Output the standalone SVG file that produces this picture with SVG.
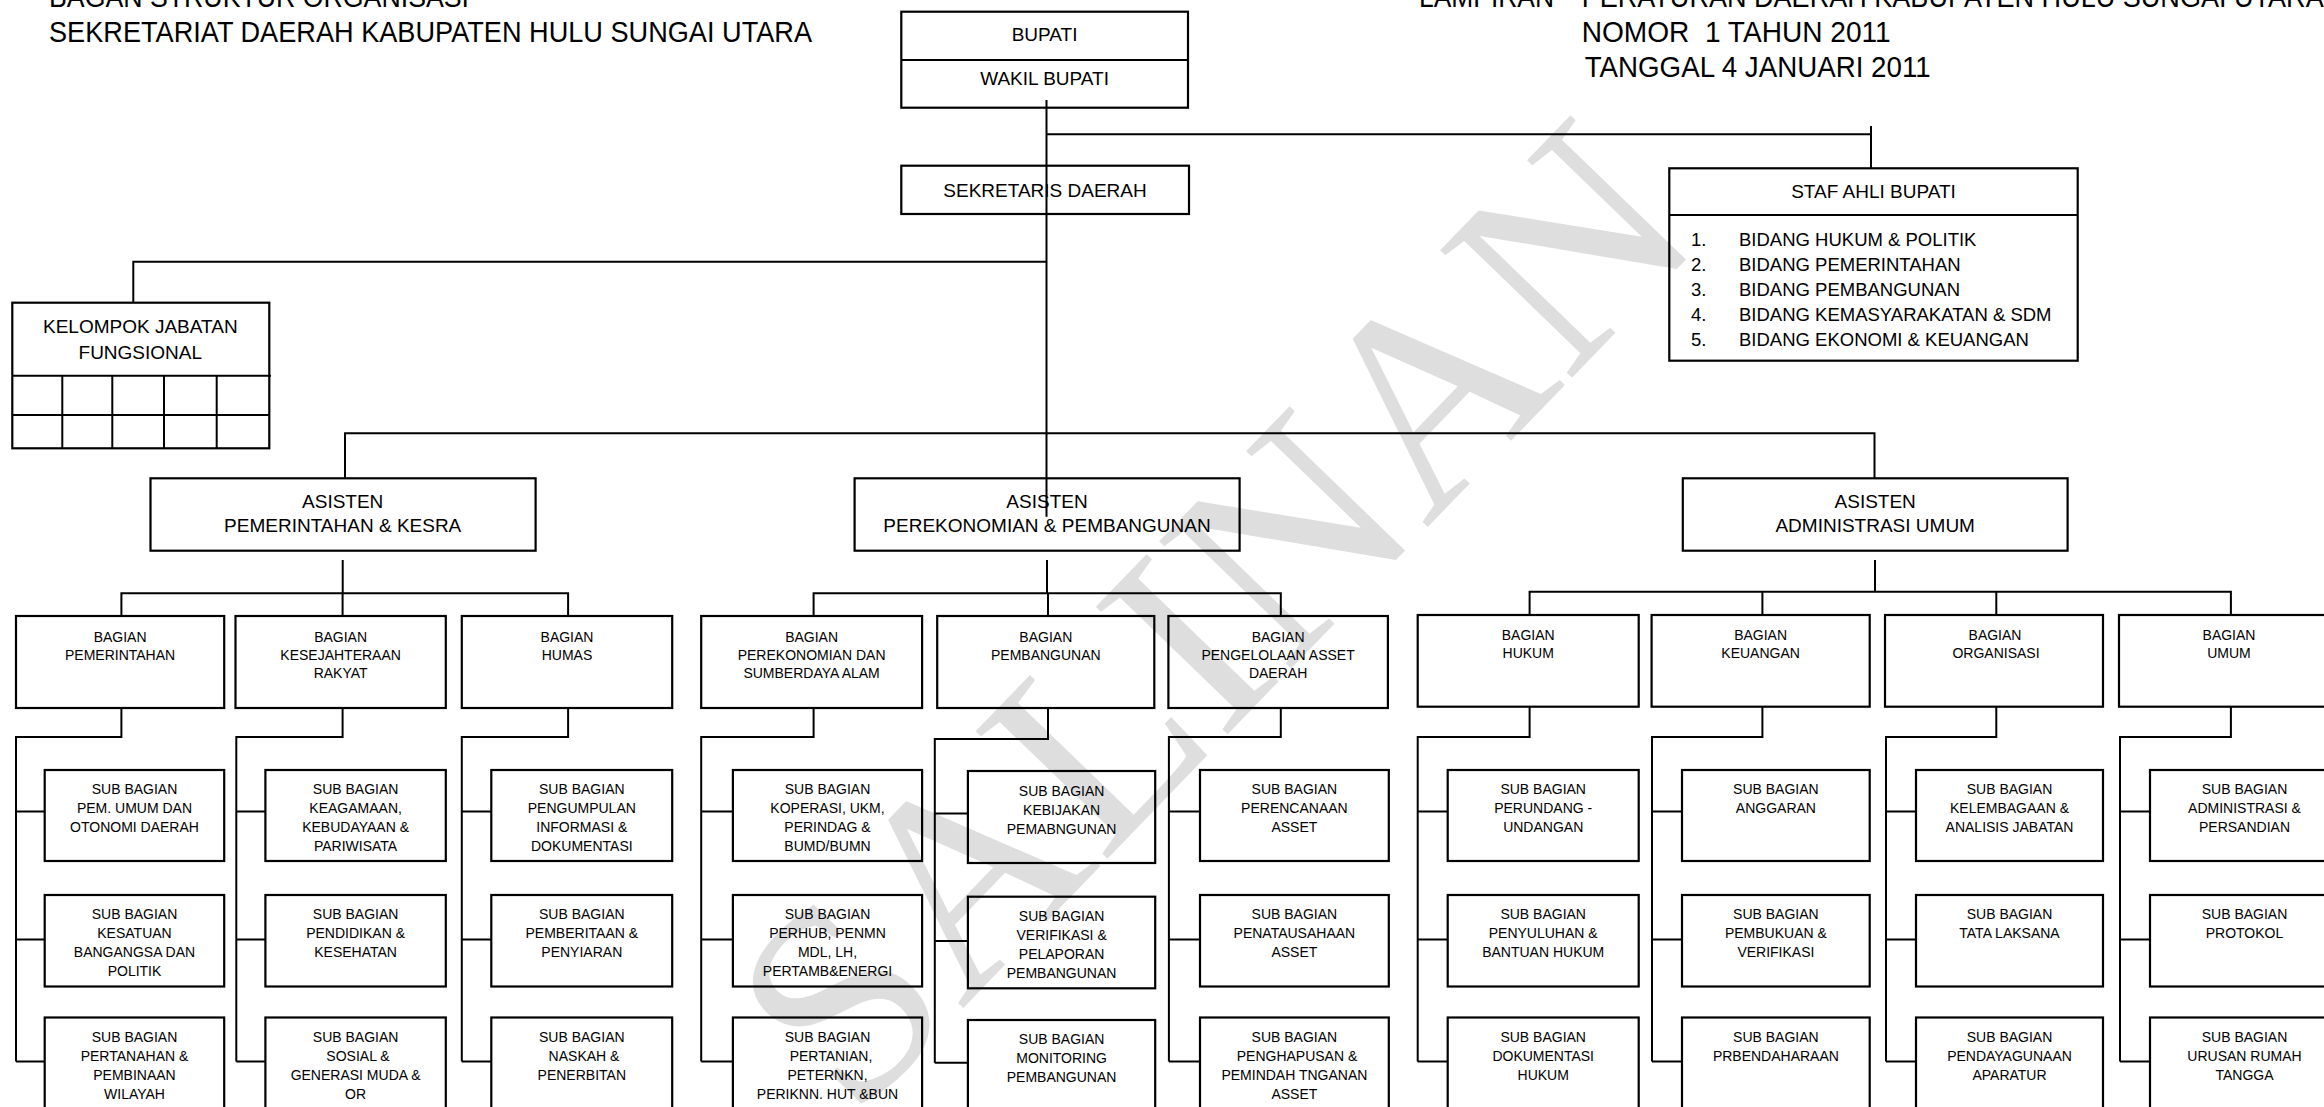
<svg xmlns="http://www.w3.org/2000/svg" width="2324" height="1107" viewBox="0 0 2324 1107">
<style>
.bx{fill:none;stroke:#000;stroke-width:2.2}
.ln{fill:none;stroke:#000;stroke-width:2}
text{font-family:"Liberation Sans",Arial,sans-serif;fill:#000}
.h{font-size:29px}
.n{font-size:19px;text-anchor:middle}
.l{font-size:18.5px}
.s{font-size:14px;text-anchor:middle}
.wm{font-family:"Liberation Serif","Times New Roman",serif;font-size:280px;fill:#dedede;text-anchor:middle}
</style>
<rect width="2324" height="1107" fill="#fff"/>
<text class="wm" transform="translate(1280,680) rotate(-46)">SALINAN</text>

<g id="header">
<text class="h" x="49" y="7" textLength="420" lengthAdjust="spacingAndGlyphs">BAGAN STRUKTUR ORGANISASI</text>
<text class="h" x="49" y="41.7" textLength="763" lengthAdjust="spacingAndGlyphs">SEKRETARIAT DAERAH KABUPATEN HULU SUNGAI UTARA</text>
<text class="h" x="1419" y="7" textLength="135" lengthAdjust="spacingAndGlyphs">LAMPIRAN</text>
<text class="h" x="1581.7" y="7" textLength="742" lengthAdjust="spacingAndGlyphs">PERATURAN DAERAH KABUPATEN HULU SUNGAI UTARA</text>
<text class="h" x="1581.7" y="41.7" textLength="309" lengthAdjust="spacingAndGlyphs" xml:space="preserve">NOMOR  1 TAHUN 2011</text>
<text class="h" x="1584.7" y="76.7" textLength="346" lengthAdjust="spacingAndGlyphs">TANGGAL 4 JANUARI 2011</text>
</g>

<g id="connectors" class="ln">
<path d="M1046.5 100V516.7"/>
<path d="M1046.5 134.3H1871M1871 126V168.3"/>
<path d="M1046.5 261.7H133.3V302.7"/>
<path d="M345 478.3V433.3H1874.5V478.3"/>
<path d="M342.7 560V593.3M121.4 616V593.3H568.1V616M342.6 593.3V616"/>
<path d="M1047 560V593.3M813.6 616V593.3H1280.8V616M1048 593.3V616"/>
<path d="M1875 560V591.7M1529.6 615V591.7H2230.9V615M1762.4 591.7V615M1996.3 591.7V615"/>
<path d="M121.4 708V737H16V1061.5M16 811.5H44.7M16 939.5H44.7M16 1061.5H44.7"/>
<path d="M342.6 708V737H236.3V1061.5M236.3 811.5H265.4M236.3 939.5H265.4M236.3 1061.5H265.4"/>
<path d="M568.1 708V737H461.8V1061.5M461.8 811.5H491.3M461.8 939.5H491.3M461.8 1061.5H491.3"/>
<path d="M813.6 708V737H701.2V1061.5M701.2 811.5H732.9M701.2 939.5H732.9M701.2 1061.5H732.9"/>
<path d="M1048 708V739H934.8V1062.7M934.8 813.5H967.9M934.8 941H967.9M934.8 1062.7H967.9"/>
<path d="M1280.8 708V737H1168.9V1061.5M1168.9 811.5H1200M1168.9 939.5H1200M1168.9 1061.5H1200"/>
<path d="M1529.6 706.7V737H1417.7V1061.5M1417.7 811.5H1447.7M1417.7 939.5H1447.7M1417.7 1061.5H1447.7"/>
<path d="M1762.4 706.7V737H1652V1061.5M1652 811.5H1682M1652 939.5H1682M1652 1061.5H1682"/>
<path d="M1996.3 706.7V737H1886V1061.5M1886 811.5H1916M1886 939.5H1916M1886 1061.5H1916"/>
<path d="M2230.9 706.7V737H2120V1061.5M2120 811.5H2150M2120 939.5H2150M2120 1061.5H2150"/>
</g>

<g id="bupati"><rect class="bx" x="901.3" y="11.7" width="286.7" height="96"/><line class="ln" x1="901.3" y1="60" x2="1188" y2="60"/><text class="n" x="1044.6" y="41">BUPATI</text><text class="n" x="1044.6" y="85">WAKIL BUPATI</text></g>
<g id="sekda"><rect class="bx" x="901.3" y="165.7" width="287.7" height="48.3"/><text class="n" x="1045" y="197">SEKRETARIS DAERAH</text></g>
<g id="staf-ahli"><rect class="bx" x="1669.3" y="168.3" width="408.4" height="192.4"/><line class="ln" x1="1669.3" y1="215" x2="2077.7" y2="215"/><text class="n" x="1873.5" y="198.3">STAF AHLI BUPATI</text>
<text class="l" x="1691" y="246.3">1.</text><text class="l" x="1739" y="246.3">BIDANG HUKUM &amp; POLITIK</text>
<text class="l" x="1691" y="271.3">2.</text><text class="l" x="1739" y="271.3">BIDANG PEMERINTAHAN</text>
<text class="l" x="1691" y="296.3">3.</text><text class="l" x="1739" y="296.3">BIDANG PEMBANGUNAN</text>
<text class="l" x="1691" y="321.3">4.</text><text class="l" x="1739" y="321.3">BIDANG KEMASYARAKATAN &amp; SDM</text>
<text class="l" x="1691" y="346.3">5.</text><text class="l" x="1739" y="346.3">BIDANG EKONOMI &amp; KEUANGAN</text></g>
<g id="kelompok"><rect class="bx" x="12.3" y="302.7" width="257" height="145.6"/><path class="ln" d="M12.3 375.7H271M12.3 415H269.3M62.3 375.7V448.3M112.3 375.7V448.3M164 375.7V448.3M216.7 375.7V448.3"/><text class="n" x="140.3" y="333.3">KELOMPOK JABATAN</text><text class="n" x="140.3" y="359.3">FUNGSIONAL</text></g>

<g id="asisten-pemerintahan"><rect class="bx" x="150.5" y="478.3" width="385.1" height="72.4"/><text class="n" x="342.7" y="508.3">ASISTEN</text><text class="n" x="342.7" y="531.7">PEMERINTAHAN &amp; KESRA</text></g>
<g id="asisten-perekonomian"><rect class="bx" x="854.6" y="478.3" width="385" height="72.4"/><text class="n" x="1047" y="508.3">ASISTEN</text><text class="n" x="1047" y="531.7">PEREKONOMIAN &amp; PEMBANGUNAN</text></g>
<g id="asisten-administrasi"><rect class="bx" x="1682.8" y="478.3" width="384.8" height="72.4"/><text class="n" x="1875.2" y="508.3">ASISTEN</text><text class="n" x="1875.2" y="531.7">ADMINISTRASI UMUM</text></g>

<g id="bag-pemerintahan"><rect class="bx" x="16" y="616" width="208.2" height="92"/><text class="s" y="641.7"><tspan x="120.1">BAGIAN</tspan><tspan x="120.1" dy="18.3">PEMERINTAHAN</tspan></text></g>
<g id="bag-kesra"><rect class="bx" x="235.5" y="616" width="210.3" height="92"/><text class="s" y="641.7"><tspan x="340.6">BAGIAN</tspan><tspan x="340.6" dy="18.3">KESEJAHTERAAN</tspan><tspan x="340.6" dy="18.3">RAKYAT</tspan></text></g>
<g id="bag-humas"><rect class="bx" x="461.8" y="616" width="210.4" height="92"/><text class="s" y="641.7"><tspan x="567">BAGIAN</tspan><tspan x="567" dy="18.3">HUMAS</tspan></text></g>
<g id="bag-perekonomian"><rect class="bx" x="701.2" y="616" width="220.9" height="92"/><text class="s" y="641.7"><tspan x="811.6">BAGIAN</tspan><tspan x="811.6" dy="18.3">PEREKONOMIAN DAN</tspan><tspan x="811.6" dy="18.3">SUMBERDAYA ALAM</tspan></text></g>
<g id="bag-pembangunan"><rect class="bx" x="937.2" y="616" width="217.1" height="92"/><text class="s" y="641.7"><tspan x="1045.8">BAGIAN</tspan><tspan x="1045.8" dy="18.3">PEMBANGUNAN</tspan></text></g>
<g id="bag-asset"><rect class="bx" x="1168.4" y="616" width="219.5" height="92"/><text class="s" y="641.7"><tspan x="1278.1">BAGIAN</tspan><tspan x="1278.1" dy="18.3">PENGELOLAAN ASSET</tspan><tspan x="1278.1" dy="18.3">DAERAH</tspan></text></g>
<g id="bag-hukum"><rect class="bx" x="1417.7" y="615" width="221" height="91.7"/><text class="s" y="640"><tspan x="1528.2">BAGIAN</tspan><tspan x="1528.2" dy="18.3">HUKUM</tspan></text></g>
<g id="bag-keuangan"><rect class="bx" x="1651.6" y="615" width="218.1" height="91.7"/><text class="s" y="640"><tspan x="1760.6">BAGIAN</tspan><tspan x="1760.6" dy="18.3">KEUANGAN</tspan></text></g>
<g id="bag-organisasi"><rect class="bx" x="1885" y="615" width="218" height="91.7"/><text class="s" y="640"><tspan x="1995">BAGIAN</tspan><tspan x="1996" dy="18.3">ORGANISASI</tspan></text></g>
<g id="bag-umum"><rect class="bx" x="2119" y="615" width="220" height="91.7"/><text class="s" y="640"><tspan x="2229">BAGIAN</tspan><tspan x="2229" dy="18.3">UMUM</tspan></text></g>

<g id="sub-pem-umum"><rect class="bx" x="44.7" y="770" width="179.5" height="91"/><text class="s" y="794"><tspan x="134.5">SUB BAGIAN</tspan><tspan x="134.5" dy="19">PEM. UMUM DAN</tspan><tspan x="134.5" dy="19">OTONOMI DAERAH</tspan></text></g>
<g id="sub-kesbang"><rect class="bx" x="44.7" y="895" width="179.5" height="91.5"/><text class="s" y="919"><tspan x="134.5">SUB BAGIAN</tspan><tspan x="134.5" dy="19">KESATUAN</tspan><tspan x="134.5" dy="19">BANGANGSA DAN</tspan><tspan x="134.5" dy="19">POLITIK</tspan></text></g>
<g id="sub-pertanahan"><rect class="bx" x="44.7" y="1017.5" width="179.5" height="100"/><text class="s" y="1041.5"><tspan x="134.5">SUB BAGIAN</tspan><tspan x="134.5" dy="19">PERTANAHAN &amp;</tspan><tspan x="134.5" dy="19">PEMBINAAN</tspan><tspan x="134.5" dy="19">WILAYAH</tspan></text></g>

<g id="sub-keagamaan"><rect class="bx" x="265.4" y="770" width="180.4" height="91"/><text class="s" y="794"><tspan x="355.6">SUB BAGIAN</tspan><tspan x="355.6" dy="19">KEAGAMAAN,</tspan><tspan x="355.6" dy="19">KEBUDAYAAN &amp;</tspan><tspan x="355.6" dy="19">PARIWISATA</tspan></text></g>
<g id="sub-pendidikan"><rect class="bx" x="265.4" y="895" width="180.4" height="91.5"/><text class="s" y="919"><tspan x="355.6">SUB BAGIAN</tspan><tspan x="355.6" dy="19">PENDIDIKAN &amp;</tspan><tspan x="355.6" dy="19">KESEHATAN</tspan></text></g>
<g id="sub-sosial"><rect class="bx" x="265.4" y="1017.5" width="180.4" height="100"/><text class="s" y="1041.5"><tspan x="355.6">SUB BAGIAN</tspan><tspan x="358" dy="19">SOSIAL &amp;</tspan><tspan x="355.6" dy="19">GENERASI MUDA &amp;</tspan><tspan x="355.6" dy="19">OR</tspan></text></g>

<g id="sub-pengumpulan"><rect class="bx" x="491.3" y="770" width="180.9" height="91"/><text class="s" y="794"><tspan x="581.8">SUB BAGIAN</tspan><tspan x="581.8" dy="19">PENGUMPULAN</tspan><tspan x="581.8" dy="19">INFORMASI &amp;</tspan><tspan x="581.8" dy="19">DOKUMENTASI</tspan></text></g>
<g id="sub-pemberitaan"><rect class="bx" x="491.3" y="895" width="180.9" height="91.5"/><text class="s" y="919"><tspan x="581.8">SUB BAGIAN</tspan><tspan x="581.8" dy="19">PEMBERITAAN &amp;</tspan><tspan x="581.8" dy="19">PENYIARAN</tspan></text></g>
<g id="sub-naskah"><rect class="bx" x="491.3" y="1017.5" width="180.9" height="100"/><text class="s" y="1041.5"><tspan x="581.8">SUB BAGIAN</tspan><tspan x="584" dy="19">NASKAH &amp;</tspan><tspan x="581.8" dy="19">PENERBITAN</tspan></text></g>

<g id="sub-koperasi"><rect class="bx" x="732.9" y="770" width="189.2" height="91"/><text class="s" y="794"><tspan x="827.5">SUB BAGIAN</tspan><tspan x="827.5" dy="19">KOPERASI, UKM,</tspan><tspan x="827.5" dy="19">PERINDAG &amp;</tspan><tspan x="827.5" dy="19">BUMD/BUMN</tspan></text></g>
<g id="sub-perhub"><rect class="bx" x="732.9" y="895" width="189.2" height="91.5"/><text class="s" y="919"><tspan x="827.5">SUB BAGIAN</tspan><tspan x="827.5" dy="19">PERHUB, PENMN</tspan><tspan x="827.5" dy="19">MDL, LH,</tspan><tspan x="827.5" dy="19">PERTAMB&amp;ENERGI</tspan></text></g>
<g id="sub-pertanian"><rect class="bx" x="732.9" y="1017.5" width="189.2" height="100"/><text class="s" y="1041.5"><tspan x="827.5">SUB BAGIAN</tspan><tspan x="831" dy="19">PERTANIAN,</tspan><tspan x="827.5" dy="19">PETERNKN,</tspan><tspan x="827.5" dy="19">PERIKNN. HUT &amp;BUN</tspan></text></g>

<g id="sub-kebijakan"><rect class="bx" x="967.9" y="771" width="187.3" height="92"/><text class="s" y="796"><tspan x="1061.6">SUB BAGIAN</tspan><tspan x="1061.6" dy="19">KEBIJAKAN</tspan><tspan x="1061.6" dy="19">PEMABNGUNAN</tspan></text></g>
<g id="sub-verifikasi"><rect class="bx" x="967.9" y="896.7" width="187.3" height="91.6"/><text class="s" y="921"><tspan x="1061.6">SUB BAGIAN</tspan><tspan x="1061.6" dy="19">VERIFIKASI &amp;</tspan><tspan x="1061.6" dy="19">PELAPORAN</tspan><tspan x="1061.6" dy="19">PEMBANGUNAN</tspan></text></g>
<g id="sub-monitoring"><rect class="bx" x="967.9" y="1020" width="187.3" height="100"/><text class="s" y="1044"><tspan x="1061.6">SUB BAGIAN</tspan><tspan x="1061.6" dy="19">MONITORING</tspan><tspan x="1061.6" dy="19">PEMBANGUNAN</tspan></text></g>

<g id="sub-perencanaan-asset"><rect class="bx" x="1200" y="770" width="188.8" height="91"/><text class="s" y="794"><tspan x="1294.4">SUB BAGIAN</tspan><tspan x="1294.4" dy="19">PERENCANAAN</tspan><tspan x="1294.4" dy="19">ASSET</tspan></text></g>
<g id="sub-penatausahaan"><rect class="bx" x="1200" y="895" width="188.8" height="91.5"/><text class="s" y="919"><tspan x="1294.4">SUB BAGIAN</tspan><tspan x="1294.4" dy="19">PENATAUSAHAAN</tspan><tspan x="1294.4" dy="19">ASSET</tspan></text></g>
<g id="sub-penghapusan"><rect class="bx" x="1200" y="1017.5" width="188.8" height="100"/><text class="s" y="1041.5"><tspan x="1294.4">SUB BAGIAN</tspan><tspan x="1297" dy="19">PENGHAPUSAN &amp;</tspan><tspan x="1294.4" dy="19">PEMINDAH TNGANAN</tspan><tspan x="1294.4" dy="19">ASSET</tspan></text></g>

<g id="sub-perundang"><rect class="bx" x="1447.7" y="770" width="191" height="91"/><text class="s" y="794"><tspan x="1543.2">SUB BAGIAN</tspan><tspan x="1543.2" dy="19">PERUNDANG -</tspan><tspan x="1543.2" dy="19">UNDANGAN</tspan></text></g>
<g id="sub-penyuluhan"><rect class="bx" x="1447.7" y="895" width="191" height="91.5"/><text class="s" y="919"><tspan x="1543.2">SUB BAGIAN</tspan><tspan x="1543.2" dy="19">PENYULUHAN &amp;</tspan><tspan x="1543.2" dy="19">BANTUAN HUKUM</tspan></text></g>
<g id="sub-dokumentasi-hukum"><rect class="bx" x="1447.7" y="1017.5" width="191" height="100"/><text class="s" y="1041.5"><tspan x="1543.2">SUB BAGIAN</tspan><tspan x="1543.2" dy="19">DOKUMENTASI</tspan><tspan x="1543.2" dy="19">HUKUM</tspan></text></g>

<g id="sub-anggaran"><rect class="bx" x="1682" y="770" width="187.7" height="91"/><text class="s" y="794"><tspan x="1775.9">SUB BAGIAN</tspan><tspan x="1775.9" dy="19">ANGGARAN</tspan></text></g>
<g id="sub-pembukuan"><rect class="bx" x="1682" y="895" width="187.7" height="91.5"/><text class="s" y="919"><tspan x="1775.9">SUB BAGIAN</tspan><tspan x="1775.9" dy="19">PEMBUKUAN &amp;</tspan><tspan x="1775.9" dy="19">VERIFIKASI</tspan></text></g>
<g id="sub-perbendaharaan"><rect class="bx" x="1682" y="1017.5" width="187.7" height="100"/><text class="s" y="1041.5"><tspan x="1775.9">SUB BAGIAN</tspan><tspan x="1775.9" dy="19">PRBENDAHARAAN</tspan></text></g>

<g id="sub-kelembagaan"><rect class="bx" x="1916" y="770" width="187" height="91"/><text class="s" y="794"><tspan x="2009.5">SUB BAGIAN</tspan><tspan x="2009.5" dy="19">KELEMBAGAAN &amp;</tspan><tspan x="2009.5" dy="19">ANALISIS JABATAN</tspan></text></g>
<g id="sub-tatalaksana"><rect class="bx" x="1916" y="895" width="187" height="91.5"/><text class="s" y="919"><tspan x="2009.5">SUB BAGIAN</tspan><tspan x="2009.5" dy="19">TATA LAKSANA</tspan></text></g>
<g id="sub-pendayagunaan"><rect class="bx" x="1916" y="1017.5" width="187" height="100"/><text class="s" y="1041.5"><tspan x="2009.5">SUB BAGIAN</tspan><tspan x="2009.5" dy="19">PENDAYAGUNAAN</tspan><tspan x="2009.5" dy="19">APARATUR</tspan></text></g>

<g id="sub-administrasi"><rect class="bx" x="2150" y="770" width="189" height="91"/><text class="s" y="794"><tspan x="2244.5">SUB BAGIAN</tspan><tspan x="2244.5" dy="19">ADMINISTRASI &amp;</tspan><tspan x="2244.5" dy="19">PERSANDIAN</tspan></text></g>
<g id="sub-protokol"><rect class="bx" x="2150" y="895" width="189" height="91.5"/><text class="s" y="919"><tspan x="2244.5">SUB BAGIAN</tspan><tspan x="2244.5" dy="19">PROTOKOL</tspan></text></g>
<g id="sub-rumah-tangga"><rect class="bx" x="2150" y="1017.5" width="189" height="100"/><text class="s" y="1041.5"><tspan x="2244.5">SUB BAGIAN</tspan><tspan x="2244.5" dy="19">URUSAN RUMAH</tspan><tspan x="2244.5" dy="19">TANGGA</tspan></text></g>
</svg>
